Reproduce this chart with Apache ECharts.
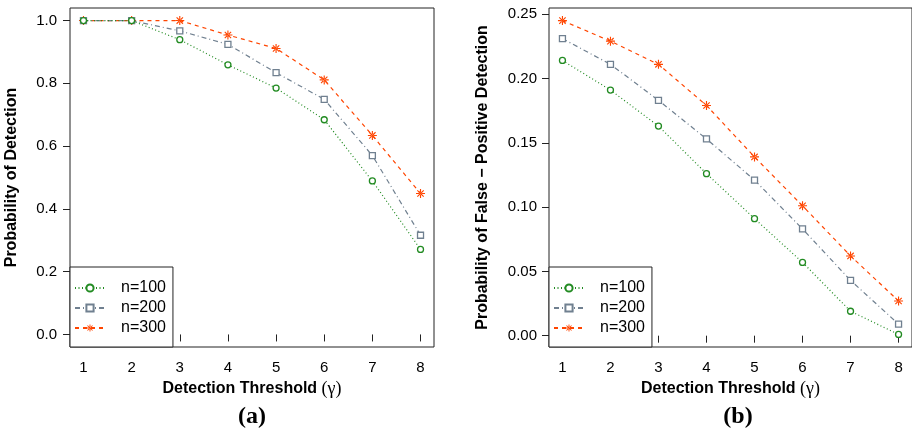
<!DOCTYPE html>
<html><head><meta charset="utf-8">
<script src="https://cdn.jsdelivr.net/npm/echarts@6/dist/echarts.min.js"></script>
<style>html,body{margin:0;padding:0;background:#fff}#chart{width:912px;height:429px}</style>
</head><body><div id="chart"></div>
<script>
// detection threshold on the x axis of both panels
var thresholds = [1, 2, 3, 4, 5, 6, 7, 8]
// (a) probability of detection
var detect100 = [1.0, 1.0, 0.939, 0.859, 0.785, 0.684, 0.489, 0.271]
var detect200 = [1.0, 1.0, 0.967, 0.924, 0.834, 0.749, 0.570, 0.316]
var detect300 = [1.0, 1.0, 1.0, 0.954, 0.911, 0.811, 0.634, 0.449]
// (b) probability of false-positive detection
var false100 = [0.214, 0.191, 0.163, 0.126, 0.091, 0.057, 0.019, 0.001]
var false200 = [0.231, 0.211, 0.183, 0.153, 0.121, 0.083, 0.043, 0.009]
var false300 = [0.245, 0.229, 0.211, 0.179, 0.139, 0.101, 0.062, 0.027]
var names = ["n=100", "n=200", "n=300"]
var yTicksA = [0, 0.2, 0.4, 0.6, 0.8, 1.0]
var yTicksB = [0, 0.05, 0.1, 0.15, 0.2, 0.25]

var sans = '"Liberation Sans", Arial, sans-serif', serif = '"Liberation Serif", "Times New Roman", serif'
var asterisk = "path://M-1,-8L1,-8L1,8L-1,8Z M-8,-1L8,-1L8,1L-8,1Z M-4.95,-6.37L6.37,4.95L4.95,6.37L-6.37,-4.95Z M-4.95,6.37L6.37,-4.95L4.95,-6.37L-6.37,4.95Z"
var looks = [
	{color: "#228b22", dash: [1, 2.5], symbol: "circle", size: 6, fill: "#fff", bw: 1.3},
	{color: "#708090", dash: [5, 3, 1, 3], symbol: "rect", size: 6, fill: "#fff", bw: 1.3},
	{color: "#ff4500", dash: [4, 4], symbol: asterisk, size: 9, fill: "#ff4500", bw: 0},
]

function series(idx, list) { return list.map(function(values, i) { var l = looks[i]
	return {type: "line", name: names[i], xAxisIndex: idx, yAxisIndex: idx, z: 3-i,
		data: thresholds.map(function(x, j) { return [x, values[j]] }),
		symbol: l.symbol, symbolSize: l.size, showSymbol: true,
		lineStyle: {color: l.color, width: 1.2, type: l.dash},
		itemStyle: {color: l.fill, borderColor: l.color, borderWidth: l.bw},
	}
}) }
function xAxis(idx) { return {type: "value", gridIndex: idx, min: 0.72, max: 8.28,
	name: "Detection Threshold {g|(γ)}", nameLocation: "middle", nameGap: 33,
	nameTextStyle: {fontFamily: sans, fontWeight: "bold", fontSize: 16, color: "#000", rich: {g: {fontFamily: serif, fontSize: 18, fontWeight: "normal", color: "#000"}}},
	axisLine: {show: false}, splitLine: {show: false},
	axisTick: {show: true, length: 7, customValues: thresholds, lineStyle: {color: "#222"}},
	axisLabel: {customValues: thresholds, margin: 13, fontFamily: sans, fontSize: 15, color: "#000"},
} }
function yAxis(idx, min, max, ticks, digits, title, gap, margin) { return {type: "value", gridIndex: idx, min: min, max: max,
	name: title, nameLocation: "middle", nameGap: gap, nameRotate: 90,
	nameTextStyle: {fontFamily: sans, fontWeight: "bold", fontSize: 16, color: "#000"},
	axisLine: {show: false}, splitLine: {show: false},
	axisTick: {show: true, length: 7, customValues: ticks, lineStyle: {color: "#222"}},
	axisLabel: {customValues: ticks, margin: margin, fontFamily: sans, fontSize: 15, color: "#000", formatter: function(v) { return v.toFixed(digits) }},
} }
function legend(left) { return {left: left, top: 267, orient: "vertical", selectedMode: false, data: names,
	backgroundColor: "#fff", borderColor: "#222", borderWidth: 1, borderRadius: 0, padding: [13, 7, 11, 4],
	itemWidth: 30, itemHeight: 9, itemGap: 4,
	textStyle: {fontFamily: sans, fontSize: 16, color: "#000", lineHeight: 16, padding: [0, 0, 0, 11]},
} }

var chart = echarts.init(document.getElementById("chart"), null, {renderer: "canvas"})
chart.setOption({animation: false, backgroundColor: "#fff",
	grid: [
		{left: 70, top: 8, width: 364, height: 339, show: true, borderColor: "#222", borderWidth: 1, backgroundColor: "#fff"},
		{left: 549, top: 8, width: 364, height: 339, show: true, borderColor: "#222", borderWidth: 1, backgroundColor: "#fff"},
	],
	xAxis: [xAxis(0), xAxis(1)],
	yAxis: [
		yAxis(0, -0.04, 1.04, yTicksA, 1, "Probability of Detection", 50, 13),
		yAxis(1, -0.0088, 0.2548, yTicksB, 2, "Probability of False \u2212 Positive Detection", 58, 12),
	],
	legend: [legend(70), legend(549)],
	series: series(0, [detect100, detect200, detect300]).concat(series(1, [false100, false200, false300])),
	graphic: [
		{type: "text", x: 252, y: 417, style: {text: "(a)", align: "center", verticalAlign: "middle", font: "bold 24px " + serif, fill: "#000"}},
		{type: "text", x: 738, y: 417, style: {text: "(b)", align: "center", verticalAlign: "middle", font: "bold 24px " + serif, fill: "#000"}},
	],
})
</script></body></html>
